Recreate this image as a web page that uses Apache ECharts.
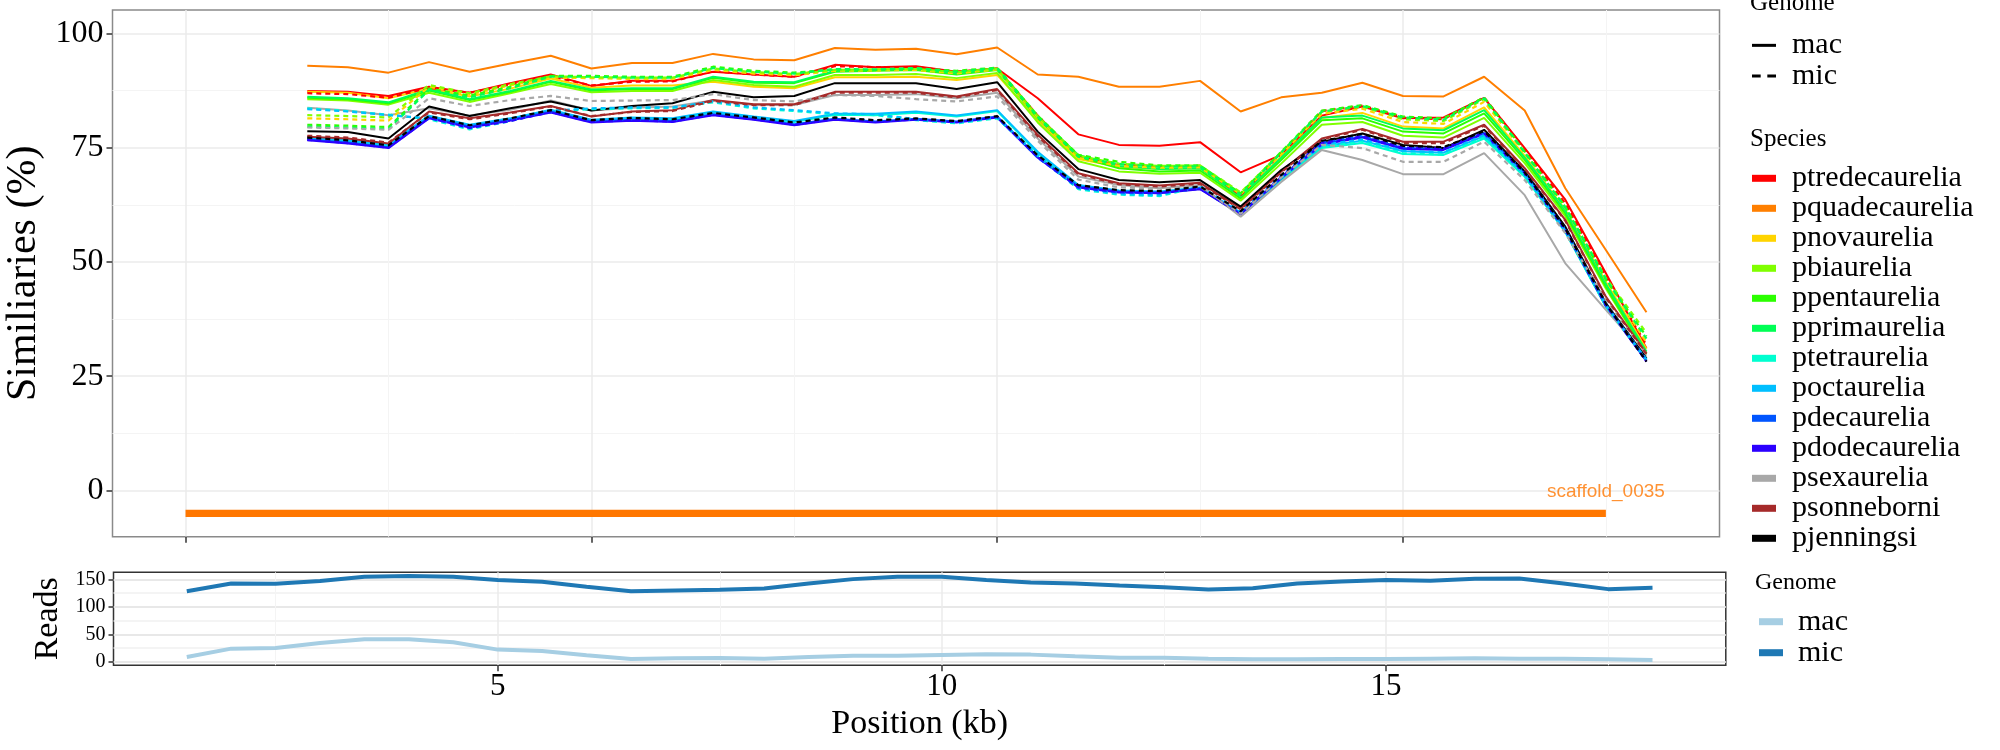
<!DOCTYPE html>
<html><head><meta charset="utf-8">
<script src="https://cdn.jsdelivr.net/npm/echarts@6/dist/echarts.min.js"></script>
<style>html,body{margin:0;padding:0;background:#fff}#c{width:2000px;height:750px}</style>
</head><body><div id="c"></div>
<script>
// ---------- data ----------
const positions = [1.5,2,2.5,3,3.5,4,4.5,5,5.5,6,6.5,7,7.5,8,8.5,9,9.5,10,10.5,11,11.5,12,12.5,13,13.5,14,14.5,15,15.5,16,16.5,17,17.5,18];

const species = ['ptredecaurelia','pquadecaurelia','pnovaurelia','pbiaurelia','ppentaurelia','pprimaurelia','ptetraurelia','poctaurelia','pdecaurelia','pdodecaurelia','psexaurelia','psonneborni','pjenningsi'];
const speciesColors = ['#FF0000','#FF7F00','#FFD400','#80FF00','#2BFF00','#00FF55','#00FFD0','#00BFFF','#0055FF','#2B00FF','#A8A8A8','#A52A2A','#000000'];

const ptredecaureliaMac = [87.4,87.2,86.3,88.3,87.0,89.1,91.0,88.5,89.6,89.6,91.6,91.0,90.5,93.1,92.6,92.8,91.6,92.3,85.8,77.9,75.6,75.4,76.2,69.6,73.4,82.0,84.0,81.4,81.6,85.9,74.9,63.6,47.5,31.1];
const ptredecaureliaMic = [86.9,86.7,85.9,88.1,87.0,88.8,90.6,88.6,89.4,89.5,91.7,91.0,90.5,92.8,92.6,92.6,91.6,92.3,82.0,73.0,71.2,70.9,71.0,64.6,73.8,83.0,84.2,81.6,81.2,86.0,74.6,62.8,47.0,31.8];
const pquadecaureliaMac = [92.9,92.6,91.4,93.7,91.6,93.4,95.1,92.3,93.5,93.5,95.5,94.3,94.1,96.8,96.4,96.6,95.4,96.9,91.0,90.5,88.3,88.3,89.6,82.9,86.0,87.0,89.2,86.3,86.2,90.5,83.1,66.1,52.6,39.0];
const pnovaureliaMac = [87.2,87.0,85.8,87.9,86.2,87.9,90.1,88.1,88.6,88.6,89.4,88.3,88.0,90.4,90.4,90.5,89.8,90.9,81.0,72.5,70.8,70.3,70.5,64.5,73.0,81.5,82.6,79.6,79.2,83.8,73.2,61.4,45.6,31.0];
const pnovaureliaMic = [81.4,81.2,80.9,88.3,86.6,88.6,90.3,90.2,90.0,90.0,92.0,91.2,90.8,91.8,91.9,92.0,91.2,92.1,81.6,72.8,71.0,70.6,70.7,64.8,73.6,82.4,83.5,80.6,80.2,85.0,73.8,61.8,46.0,32.4];
const pbiaureliaMac = [85.6,85.3,84.4,87.0,85.0,86.9,88.9,87.1,87.4,87.4,89.8,88.7,88.3,90.9,90.9,91.1,90.2,91.3,80.5,72.0,69.8,69.3,69.5,63.4,71.5,80.0,80.6,77.6,77.2,81.5,71.6,60.0,44.2,29.8];
const pbiaureliaMic = [82.1,81.9,81.6,88.7,86.9,88.9,90.6,90.4,90.3,90.3,92.3,91.5,91.1,92.0,92.1,92.2,91.5,92.3,81.9,73.2,71.5,71.0,71.1,65.2,74.0,82.8,84.0,81.2,80.8,85.6,74.0,62.0,46.5,34.5];
const ppentaureliaMac = [85.9,85.6,84.7,87.5,85.4,87.2,89.4,87.5,87.8,87.8,90.3,89.2,89.1,91.6,91.8,92.0,91.0,92.0,81.4,73.0,70.5,69.8,70.0,63.9,72.3,81.0,81.4,78.5,78.1,82.5,72.3,60.6,44.6,30.0];
const ppentaureliaMic = [80.0,79.8,79.5,87.9,86.4,88.3,90.7,90.7,90.5,90.5,92.7,91.8,91.4,92.1,92.0,92.3,91.8,92.5,82.0,73.4,71.9,71.1,71.1,65.0,74.1,83.1,84.3,81.8,81.4,86.0,74.1,62.1,46.1,33.7];
const pprimaureliaMac = [86.1,85.8,84.9,87.7,85.6,87.4,89.6,87.7,88.0,88.0,90.5,89.4,89.3,91.8,92.0,92.2,91.2,92.2,81.8,73.4,71.0,70.3,70.5,64.3,72.8,81.6,82.0,79.2,78.8,83.2,72.8,61.2,45.2,30.4];
const pprimaureliaMic = [79.6,79.4,79.1,87.6,86.0,88.0,90.5,90.5,90.3,90.3,92.4,91.6,91.2,92.2,92.1,92.4,91.6,92.4,81.7,73.0,71.4,70.8,70.9,64.7,73.9,82.9,84.1,81.6,81.1,85.8,73.9,61.9,46.3,33.2];
const ptetraureliaMac = [77.0,76.4,75.4,81.8,79.8,81.3,83.1,80.9,81.4,81.2,82.7,81.6,80.6,82.2,82.1,82.6,81.8,83.0,73.8,66.5,65.3,65.1,66.0,60.4,68.0,74.9,76.0,73.6,73.4,77.0,68.6,56.5,40.2,28.6];
const ptetraureliaMic = [83.6,83.0,82.2,81.2,79.0,80.8,83.0,83.4,83.6,83.7,84.9,83.6,83.0,82.3,82.1,81.0,80.3,81.4,73.2,65.9,64.7,64.4,66.4,60.8,68.4,75.2,76.4,73.8,73.5,77.3,68.8,56.6,40.3,28.5];
const poctaureliaMac = [77.2,76.6,75.6,82.0,80.0,81.4,83.3,81.1,81.6,81.4,82.9,81.8,80.8,82.4,82.4,82.9,82.0,83.2,74.1,66.8,65.6,65.4,66.3,60.8,68.3,75.3,76.5,74.2,73.9,77.5,69.0,56.8,40.5,28.8];
const poctaureliaMic = [83.4,82.9,82.1,81.4,79.2,81.0,83.1,83.6,83.8,83.8,85.1,83.8,83.2,82.5,82.3,81.2,80.5,81.6,73.4,66.1,64.9,64.6,66.6,61.0,68.6,75.6,76.8,74.3,74.0,77.8,69.1,56.9,40.6,28.7];
const pdecaureliaMac = [76.8,76.1,75.1,81.6,79.6,81.1,82.9,80.7,81.1,80.8,82.3,81.3,80.1,81.3,80.7,81.3,80.7,81.8,73.0,66.5,65.4,65.2,66.1,60.6,68.5,75.9,77.4,74.9,74.7,78.2,69.4,57.0,40.5,28.5];
const pdecaureliaMic = [76.9,76.2,75.2,81.5,79.5,81.0,82.8,80.8,81.2,80.9,82.4,81.4,80.3,81.4,80.9,81.1,80.6,81.7,72.8,66.2,65.2,65.0,66.2,60.9,68.8,76.1,77.6,75.1,74.9,78.4,69.6,57.2,40.8,28.4];
const pdodecaureliaMac = [76.6,75.9,74.9,81.4,79.4,80.9,82.7,80.5,80.9,80.6,82.1,81.1,79.9,81.1,80.5,81.1,80.5,81.6,72.8,66.3,65.2,65.0,65.9,60.4,68.3,75.7,77.2,74.7,74.5,78.0,69.2,56.8,40.3,28.3];
const pdodecaureliaMic = [76.7,76.0,75.0,81.5,79.3,80.8,82.8,80.6,81.0,80.7,82.2,81.2,80.0,81.2,80.6,81.2,80.6,81.7,72.9,66.4,65.3,65.1,66.0,60.5,68.6,76.0,77.5,75.0,74.8,78.3,69.5,57.1,40.6,28.2];
const psexaureliaMac = [83.7,83.1,82.1,83.6,82.0,83.3,85.3,83.1,83.7,84.0,85.3,84.3,84.3,86.5,86.5,86.7,85.8,87.0,77.0,68.7,66.8,66.1,66.8,59.9,67.5,74.5,72.3,69.2,69.2,73.8,64.6,49.7,39.5,29.5];
const psexaureliaMic = [79.4,79.2,78.9,85.8,84.1,85.4,86.3,85.2,85.3,85.4,86.7,85.4,85.1,86.5,86.3,85.6,85.1,86.2,76.5,68.0,66.3,66.0,66.5,60.5,68.5,75.6,74.9,71.9,71.9,76.3,67.9,56.3,41.7,29.8];
const psonneborniMac = [77.4,77.0,75.9,82.9,81.4,82.7,84.1,81.8,82.9,83.2,85.4,84.5,84.5,87.2,87.2,87.2,86.2,87.8,77.8,69.4,67.2,66.7,67.3,61.7,69.8,77.0,79.1,76.3,76.3,80.0,70.5,59.2,42.4,30.0];
const psonneborniMic = [77.6,77.2,76.1,82.7,81.2,82.5,84.0,81.9,82.8,83.0,85.2,84.3,84.3,87.0,87.0,87.0,86.0,87.6,77.5,69.2,67.0,66.5,67.1,61.5,69.6,76.8,78.9,76.0,76.0,79.8,70.3,59.0,42.2,29.8];
const pjenningsiMac = [78.6,78.4,77.0,84.0,81.9,83.6,85.1,83.1,84.1,84.7,87.2,86.0,86.3,89.1,89.1,89.1,87.8,89.3,78.5,70.3,67.9,67.4,67.9,62.1,70.1,76.3,78.1,75.6,74.9,78.9,69.8,57.7,41.0,28.9];
const pjenningsiMic = [77.2,76.6,75.5,81.9,79.9,81.4,83.2,81.0,81.5,81.2,82.6,81.6,80.5,81.6,81.0,81.4,80.8,81.9,73.3,66.8,65.7,65.5,66.5,61.1,69.0,76.5,78.0,75.4,75.1,78.6,69.6,57.3,40.9,28.2];

const readsMac = [9.1,24.3,25.5,34.6,41.3,41.3,35.8,22.5,20.0,12.1,5.5,6.7,7.3,6.1,9.1,11.5,11.5,12.8,14.0,13.4,10.3,7.9,7.9,6.1,4.9,4.9,5.5,5.5,6.1,6.7,6.1,6.1,4.9,3.6];
const readsMic = [128.7,142.7,142.1,147.0,154.9,156.1,154.9,148.8,145.8,136.6,128.7,130.0,131.2,133.6,142.7,150.6,154.9,154.9,148.8,144.5,142.7,139.0,136.0,131.8,134.2,142.7,146.4,148.8,147.6,151.2,151.8,142.7,132.4,134.8];

const scaffoldName = 'scaffold_0035';
const scaffoldStart = 0, scaffoldEnd = 17.5, scaffoldY = -5;

const simTicks = [0,25,50,75,100];
const simMinor = [12.5,37.5,62.5,87.5];
const posTicksTop = [0,5,10,15];
const posTicksBottom = [5,10,15];
const posMinor = [2.5,7.5,12.5,17.5];
const readsTicks = [0,50,100,150];
const readsMinor = [25,75,125];

// ---------- build ----------
const macArrays = [ptredecaureliaMac,pquadecaureliaMac,pnovaureliaMac,pbiaureliaMac,ppentaureliaMac,pprimaureliaMac,ptetraureliaMac,poctaureliaMac,pdecaureliaMac,pdodecaureliaMac,psexaureliaMac,psonneborniMac,pjenningsiMac];
const micArrays = [ptredecaureliaMic,null,pnovaureliaMic,pbiaureliaMic,ppentaureliaMic,pprimaureliaMic,ptetraureliaMic,poctaureliaMic,pdecaureliaMic,pdodecaureliaMic,psexaureliaMic,psonneborniMic,pjenningsiMic];

const SERIF = 'Liberation Serif';
const pair = arr => positions.map((x, i) => [x, arr[i]]);

const series = [];
species.forEach((s, k) => {
  series.push({
    name: s, type: 'line', xAxisIndex: 0, yAxisIndex: 0, data: pair(macArrays[k]),
    symbol: 'none', silent: true, z: 3,
    itemStyle: {color: speciesColors[k]},
    lineStyle: {color: speciesColors[k], width: 2}
  });
});
species.forEach((s, k) => {
  if (!micArrays[k]) return;
  series.push({
    name: s, type: 'line', xAxisIndex: 0, yAxisIndex: 0, data: pair(micArrays[k]),
    symbol: 'none', silent: true, z: 4,
    itemStyle: {color: speciesColors[k]},
    lineStyle: {color: speciesColors[k], width: 2.2, type: [5, 4]}
  });
});
// genome legend keys
series.push({name: 'mac', type: 'line', xAxisIndex: 0, yAxisIndex: 0, data: [], symbol: 'none',
  itemStyle: {color: '#000'}, lineStyle: {color: '#000', width: 3}});
series.push({name: 'mic', type: 'line', xAxisIndex: 0, yAxisIndex: 0, data: [], symbol: 'none',
  itemStyle: {color: '#000'}, lineStyle: {color: '#000', width: 3, type: [8, 7]}});
// scaffold bar
series.push({name: 'scaffold', type: 'line', xAxisIndex: 0, yAxisIndex: 0, symbol: 'none', silent: true, z: 2,
  data: [[scaffoldStart, scaffoldY], [scaffoldEnd, scaffoldY]],
  lineStyle: {color: '#FF7700', width: 7.3, cap: 'butt'}});
series.push({name: 'scaffoldLabel', type: 'scatter', xAxisIndex: 0, yAxisIndex: 0, silent: true, z: 5,
  symbolSize: 1, itemStyle: {color: 'rgba(0,0,0,0)'},
  data: [[scaffoldEnd, scaffoldY]],
  label: {show: true, position: 'top', distance: 12, formatter: scaffoldName,
    color: '#FF7700', fontFamily: 'Liberation Sans', fontSize: 19}});
// reads
series.push({name: 'reads_mic', type: 'line', xAxisIndex: 2, yAxisIndex: 2, data: pair(readsMic), symbol: 'none', silent: true,
  itemStyle: {color: '#1F78B4'}, lineStyle: {color: '#1F78B4', width: 4}});
series.push({name: 'reads_mac', type: 'line', xAxisIndex: 2, yAxisIndex: 2, data: pair(readsMac), symbol: 'none', silent: true,
  itemStyle: {color: '#A6CEE3'}, lineStyle: {color: '#A6CEE3', width: 4}});

const majorSplit = {show: true, lineStyle: {color: '#EBEBEB', width: 1.5}};
const minorSplit = {show: true, lineStyle: {color: '#F4F4F4', width: 1}};
const tickStyle = {lineStyle: {color: '#333', width: 1.5}};
const noLine = {show: false, onZero: false};

const option = {
  animation: false,
  backgroundColor: '#fff',
  title: [
    {text: 'Genome', left: 1750, top: -9, padding: 0, textStyle: {fontFamily: SERIF, fontSize: 25, fontWeight: 'normal', color: '#000'}},
    {text: 'Species', left: 1750, top: 127, padding: 0, textStyle: {fontFamily: SERIF, fontSize: 25, fontWeight: 'normal', color: '#000'}},
    {text: 'Genome', left: 1755, top: 571, padding: 0, textStyle: {fontFamily: SERIF, fontSize: 24, fontWeight: 'normal', color: '#000'}}
  ],
  legend: [
    {data: [
        {name: 'mac', icon: 'path://M0,0H24V3H0Z'},
        {name: 'mic', icon: 'path://M0,0H8.5V3H0Z M15,0H23.5V3H15Z'}
      ],
      orient: 'vertical', left: 1752, top: 30, padding: 0, itemGap: 0,
      itemWidth: 24, itemHeight: 3, symbolKeepAspect: false, selectedMode: false,
      itemStyle: {color: '#000', borderWidth: 0},
      textStyle: {fontFamily: SERIF, fontSize: 30, lineHeight: 30.7, color: '#000', padding: [0, 0, 0, 11]}},
    {data: species, orient: 'vertical', left: 1752, top: 163.3, padding: 0, itemGap: 0,
      icon: 'rect', itemWidth: 24, itemHeight: 7, selectedMode: false, itemStyle: {borderWidth: 0},
      textStyle: {fontFamily: SERIF, fontSize: 30, lineHeight: 30, color: '#000', padding: [0, 0, 0, 11]}},
    {data: ['reads_mac', 'reads_mic'], formatter: n => n.replace('reads_', ''), orient: 'vertical', left: 1759, top: 606.2, padding: 0, itemGap: 0,
      icon: 'rect', itemWidth: 24, itemHeight: 7, selectedMode: false, itemStyle: {borderWidth: 0},
      textStyle: {fontFamily: SERIF, fontSize: 30, lineHeight: 31, color: '#000', padding: [0, 0, 0, 10]}}
  ],
  grid: [
    {left: 112.5, top: 10, width: 1607, height: 526.7, show: true, borderColor: '#8a8a8a', borderWidth: 1.5, backgroundColor: '#fff', containLabel: false, outerBoundsMode: 'none'},
    {left: 113.5, top: 572.3, width: 1612.3, height: 93, show: true, borderColor: '#333', borderWidth: 1.5, backgroundColor: '#fff', containLabel: false, outerBoundsMode: 'none'}
  ],
  xAxis: [
    {gridIndex: 0, type: 'value', position: 'bottom', min: -0.9, max: 18.9, axisLine: noLine,
      axisTick: Object.assign({show: true, length: 6, customValues: posTicksTop}, tickStyle),
      axisLabel: {show: false}, splitLine: majorSplit},
    {gridIndex: 0, type: 'value', position: 'top', min: -0.9, max: 18.9, axisLine: noLine,
      axisTick: {show: false, customValues: posMinor}, axisLabel: {show: false}, splitLine: minorSplit},
    {gridIndex: 1, type: 'value', position: 'bottom', min: 0.675, max: 18.825, axisLine: noLine,
      axisTick: Object.assign({show: true, length: 6, customValues: posTicksBottom}, tickStyle),
      axisLabel: {show: true, customValues: posTicksBottom, margin: 6, fontFamily: SERIF, fontSize: 31, color: '#000'},
      splitLine: majorSplit,
      name: 'Position (kb)', nameLocation: 'middle', nameGap: 42,
      nameTextStyle: {fontFamily: SERIF, fontSize: 34, color: '#000'}},
    {gridIndex: 1, type: 'value', position: 'top', min: 0.675, max: 18.825, axisLine: noLine,
      axisTick: {show: false, customValues: posMinor}, axisLabel: {show: false}, splitLine: minorSplit}
  ],
  yAxis: [
    {gridIndex: 0, type: 'value', position: 'left', min: -10.1, max: 105.1, axisLine: noLine,
      axisTick: Object.assign({show: true, length: 6, customValues: simTicks}, tickStyle),
      axisLabel: {show: true, customValues: simTicks, margin: 9, fontFamily: SERIF, fontSize: 32, color: '#000'},
      splitLine: majorSplit,
      name: 'Similiaries (%)', nameLocation: 'middle', nameRotate: 90, nameGap: 64,
      nameTextStyle: {fontFamily: SERIF, fontSize: 42, color: '#000'}},
    {gridIndex: 0, type: 'value', position: 'right', min: -10.1, max: 105.1, axisLine: noLine,
      axisTick: {show: false, customValues: simMinor}, axisLabel: {show: false}, splitLine: minorSplit},
    {gridIndex: 1, type: 'value', position: 'left', min: -6, max: 163, axisLine: noLine,
      axisTick: Object.assign({show: true, length: 5, customValues: readsTicks}, tickStyle),
      axisLabel: {show: true, customValues: readsTicks, margin: 8, fontFamily: SERIF, fontSize: 20, color: '#000'},
      splitLine: {show: true, lineStyle: {color: '#E8E8E8', width: 2}},
      name: 'Reads', nameLocation: 'middle', nameRotate: 90, nameGap: 45,
      nameTextStyle: {fontFamily: SERIF, fontSize: 34, color: '#000'}},
    {gridIndex: 1, type: 'value', position: 'right', min: -6, max: 163, axisLine: noLine,
      axisTick: {show: false, customValues: readsMinor}, axisLabel: {show: false}, splitLine: {show: true, lineStyle: {color: '#F0F0F0', width: 1.5}}}
  ],
  series: series
};

const chart = echarts.init(document.getElementById('c'), null, {renderer: 'canvas'});
chart.setOption(option);
</script>
</body></html>
